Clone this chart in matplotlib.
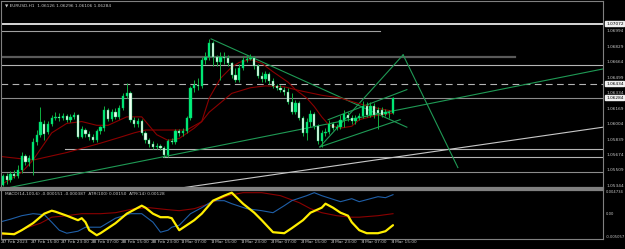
import matplotlib
matplotlib.use('Agg')
import matplotlib.pyplot as plt

# ----------------------------------- dados (EURUSD H1) -----------------------------------
opens = [1.0535, 1.0545, 1.0541, 1.0547, 1.0545, 1.0551, 1.0566, 1.0560, 1.0562, 1.0581,
         1.0589, 1.0600, 1.0592, 1.0600, 1.0607, 1.0608, 1.0607, 1.0609, 1.0605, 1.0608,
         1.0610, 1.0587, 1.0594, 1.0590, 1.0587, 1.0583, 1.0593, 1.0596, 1.0615, 1.0606,
         1.0613, 1.0608, 1.0617, 1.0630, 1.0633, 1.0605, 1.0600, 1.0604, 1.0591, 1.0583,
         1.0579, 1.0576, 1.0577, 1.0575, 1.0567, 1.0582, 1.0581, 1.0593, 1.0591, 1.0593,
         1.0607, 1.0639, 1.0642, 1.0641, 1.0669, 1.0672, 1.0687, 1.0672, 1.0666, 1.0672,
         1.0671, 1.0665, 1.0653, 1.0647, 1.0660, 1.0669, 1.0670, 1.0671, 1.0662, 1.0651,
         1.0648, 1.0654, 1.0646, 1.0641, 1.0639, 1.0637, 1.0634, 1.0624, 1.0613, 1.0623,
         1.0607, 1.0591, 1.0603, 1.0611, 1.0598, 1.0582, 1.0591, 1.0592, 1.0600, 1.0596,
         1.0597, 1.0605, 1.0610, 1.0607, 1.0604, 1.0607, 1.0609, 1.0620, 1.0610, 1.0620,
         1.0615, 1.0615, 1.0611, 1.0612, 1.06126]
highs = [1.0547, 1.0548, 1.0550, 1.0551, 1.0557, 1.0571, 1.0568, 1.0567, 1.0586, 1.0594,
         1.0619, 1.0605, 1.0604, 1.0610, 1.0613, 1.0612, 1.0612, 1.0611, 1.0611, 1.0613,
         1.0611, 1.0598, 1.0596, 1.0593, 1.0590, 1.0595, 1.0598, 1.0620, 1.0617, 1.0616,
         1.0617, 1.0621, 1.0633, 1.0644, 1.0635, 1.0608, 1.0607, 1.0606, 1.0593, 1.0586,
         1.0582, 1.0580, 1.0579, 1.0577, 1.0584, 1.0585, 1.0595, 1.0595, 1.0596, 1.0609,
         1.0641, 1.0647, 1.0649, 1.0672, 1.0677, 1.0691, 1.0689, 1.0674, 1.0677, 1.0677,
         1.0674, 1.0666, 1.0660, 1.0664, 1.0673, 1.0674, 1.0675, 1.0673, 1.0664, 1.0656,
         1.0657, 1.0656, 1.0649, 1.0643, 1.0642, 1.0640, 1.0639, 1.0633, 1.0626, 1.0625,
         1.0609, 1.0607, 1.0615, 1.0613, 1.0600, 1.0594, 1.0596, 1.0605, 1.0603, 1.0600,
         1.0610, 1.0615, 1.0613, 1.0610, 1.0610, 1.0612, 1.0625, 1.0624, 1.0624, 1.0623,
         1.0619, 1.0618, 1.0616, 1.0615, 1.06296]
lows = [1.0534, 1.0537, 1.0539, 1.0543, 1.0543, 1.0548, 1.0557, 1.0556, 1.0546, 1.0578,
        1.0587, 1.0583, 1.0590, 1.0598, 1.0605, 1.0604, 1.0605, 1.0603, 1.0602, 1.0606,
        1.0585, 1.0585, 1.0587, 1.0583, 1.0581, 1.0581, 1.0590, 1.0593, 1.0604, 1.0604,
        1.0606, 1.0606, 1.0615, 1.0628, 1.0603, 1.0597, 1.0597, 1.0589, 1.0580, 1.0576,
        1.0574, 1.0574, 1.0573, 1.0565, 1.0565, 1.0579, 1.0579, 1.0588, 1.0588, 1.0591,
        1.0605, 1.0634, 1.0637, 1.0639, 1.0664, 1.0669, 1.0662, 1.0662, 1.0647, 1.0664,
        1.0662, 1.0649, 1.0645, 1.0645, 1.0658, 1.0666, 1.0668, 1.0659, 1.0649, 1.0645,
        1.0645, 1.0643, 1.0639, 1.0637, 1.0634, 1.0631, 1.0622, 1.0611, 1.0611, 1.0605,
        1.0588, 1.0583, 1.0597, 1.0595, 1.0579, 1.0576, 1.0588, 1.0590, 1.0594, 1.0594,
        1.0595, 1.0597, 1.0604, 1.0600, 1.0600, 1.0605, 1.0607, 1.0608, 1.0608, 1.0607,
        1.0595, 1.0608, 1.0609, 1.0607, 1.06106]
closes = [1.0545, 1.0541, 1.0547, 1.0545, 1.0551, 1.0566, 1.0560, 1.0564, 1.0581, 1.0589,
          1.0602, 1.0590, 1.0600, 1.0607, 1.0608, 1.0607, 1.0609, 1.0605, 1.0608, 1.0610,
          1.0587, 1.0595, 1.0590, 1.0587, 1.0583, 1.0593, 1.0597, 1.0615, 1.0606, 1.0613,
          1.0608, 1.0617, 1.0630, 1.0633, 1.0605, 1.0600, 1.0604, 1.0591, 1.0583, 1.0579,
          1.0576, 1.0577, 1.0575, 1.0567, 1.0582, 1.0581, 1.0593, 1.0591, 1.0593, 1.0607,
          1.0639, 1.0642, 1.0641, 1.0669, 1.0672, 1.0687, 1.0672, 1.0666, 1.0672, 1.0671,
          1.0665, 1.0653, 1.0647, 1.0660, 1.0669, 1.0670, 1.0671, 1.0662, 1.0651, 1.0648,
          1.0654, 1.0646, 1.0641, 1.0639, 1.0637, 1.0634, 1.0624, 1.0613, 1.0623, 1.0607,
          1.0591, 1.0603, 1.0611, 1.0598, 1.0582, 1.0591, 1.0592, 1.0600, 1.0596, 1.0597,
          1.0605, 1.0611, 1.0607, 1.0604, 1.0607, 1.0609, 1.0620, 1.0610, 1.0620, 1.0610,
          1.0612, 1.0610, 1.0613, 1.0613, 1.06284]

# medias moveis (por barra)
ma_fast_bar = [0, 5, 8, 13, 17, 21, 25, 28, 33, 37, 41, 44, 47, 51, 53, 55, 58, 61, 63, 66,
               69, 72, 76, 78, 81, 83, 85, 87, 90, 93, 95, 99, 104]
ma_fast = [1.0537, 1.0549, 1.0562, 1.0591, 1.0601, 1.0603, 1.0599, 1.0599, 1.0608, 1.0608,
           1.0589, 1.0583, 1.0585, 1.0596, 1.0603, 1.0628, 1.0649, 1.0661, 1.0666, 1.0669,
           1.0665, 1.0656, 1.0645, 1.0637, 1.0628, 1.0619, 1.0608, 1.0599, 1.0596, 1.0598,
           1.0605, 1.0609, 1.0612]
ma_slow_bar = [-1, 8, 17, 26, 31, 35, 38, 44, 49, 53, 55, 58, 61, 66, 70, 75, 79, 85, 90, 95,
               100, 104]
ma_slow = [1.0566, 1.0562, 1.0570, 1.0580, 1.0586, 1.0591, 1.0594, 1.0594, 1.0594, 1.0603,
           1.0613, 1.0623, 1.0633, 1.0639, 1.0641, 1.0640, 1.0636, 1.0631, 1.0628, 1.0622,
           1.0617, 1.0614]

# janela do MACD / ATR
sub_yellow_bar = [-1, 3, 5, 8, 11, 13, 14, 17, 20, 21, 22, 23, 25, 26, 28, 30, 33, 37, 38, 40,
                  42, 44, 45, 47, 49, 51, 53, 56, 59, 61, 64, 67, 69, 72, 75, 77, 80, 82, 85, 86,
                  88, 90, 92, 93, 95, 97, 100, 102, 104]
sub_yellow = [-0.0039, -0.0041, -0.0033, -0.0019, 0.0000, 0.0006, 0.0004, -0.0004, -0.0013, -0.0009,
              -0.0017, -0.0033, -0.0043, -0.0039, -0.0029, -0.0019, 0.0000, 0.0016, 0.0012, 0.0000,
              -0.0007, -0.0007, -0.0009, -0.0033, -0.0023, -0.0013, 0.0000, 0.0026, 0.0036, 0.0042,
              0.0020, 0.0002, -0.0013, -0.0037, -0.0039, -0.0029, -0.0013, 0.0002, 0.0012, 0.0020,
              0.0012, 0.0002, -0.0004, -0.0017, -0.0033, -0.0039, -0.0039, -0.0035, -0.0023]
sub_blue_bar = [-1, 2, 5, 8, 11, 13, 15, 17, 20, 22, 26, 30, 34, 37, 40, 42, 44, 45, 47, 50,
                53, 56, 59, 61, 65, 69, 72, 75, 77, 81, 83, 85, 90, 93, 95, 97, 100, 102, 104]
sub_blue = [-0.0017, -0.0011, -0.0004, 0.0000, -0.0002, -0.0017, -0.0033, -0.0039, -0.0035, -0.0027,
            -0.0027, -0.0009, 0.0000, 0.0000, -0.0017, -0.0037, -0.0033, -0.0027, -0.0023, 0.0000,
            0.0012, 0.0026, 0.0026, 0.0020, 0.0010, 0.0006, 0.0002, 0.0016, 0.0026, 0.0036,
            0.0042, 0.0036, 0.0024, 0.0030, 0.0024, 0.0028, 0.0034, 0.0032, 0.0038]
sub_red_bar = [-1, 3, 6, 10, 13, 17, 21, 26, 30, 35, 39, 44, 47, 51, 55, 60, 64, 69, 74, 79,
               82, 85, 89, 93, 95, 100, 104]
sub_red = [-0.0043, -0.0039, -0.0029, -0.0019, -0.0007, -0.0004, 0.0000, 0.0000, 0.0002, 0.0010,
           0.0012, 0.0008, 0.0006, 0.0010, 0.0020, 0.0036, 0.0042, 0.0042, 0.0036, 0.0022,
           0.0010, 0.0002, -0.0004, -0.0007, -0.0007, -0.0004, 0.0000]

time_bars = [0, 8, 16, 24, 32, 40, 48, 56, 64, 72, 80, 88, 96, 104]
time_labels = ['27 Feb 2023', '27 Feb 15:00', '27 Feb 23:00', '28 Feb 07:00', '28 Feb 15:00',
               '28 Feb 23:00', '1 Mar 07:00', '1 Mar 15:00', '1 Mar 23:00', '2 Mar 07:00',
               '2 Mar 15:00', '2 Mar 23:00', '3 Mar 07:00', '3 Mar 15:00']
price_ticks = [1.06994, 1.06829, 1.06664, 1.06499, 1.06334, 1.06169, 1.06004,
               1.05839, 1.05674, 1.05509, 1.05344]
level_white = 1.07072
level_dashed = 1.06434
level_bid = 1.06284
sub_ticks = [0.004734, 0.0, -0.005057]
sub_tick_labels = ['0.004734', '0.00', '-0.005057']

# linhas de tendencia (barra, preco)
green_lines = [((55.5, 1.0691), (107.7, 1.0597)),
               ((2.0, 1.0533), (160.0, 1.0659)),
               ((84.5, 1.0576), (106.7, 1.0674)),
               ((106.7, 1.0674), (121.3, 1.0554)),
               ((86.7, 1.0605), (107.7, 1.0637)),
               ((84.5, 1.0576), (105.9, 1.0605))]
white_slope = ((47.0, 1.0532), (160.0, 1.0597))

# --------------------------------------------- PLOTAGEM ---------------------------------------------
BG = 'black'
TXT = '#c8c8c8'
FRAME = '#808080'
FS = 3.1

fig = plt.figure(figsize=(6.25, 2.49), dpi=100, facecolor=BG)
ax = fig.add_axes([1 / 625, 61 / 249, 602 / 625, 187 / 249], facecolor=BG)
ax2 = fig.add_axes([1 / 625, 10 / 249, 602 / 625, 49 / 249], facecolor=BG)

x_min, x_max = -0.53, 160.0
ax.set_xlim(x_min, x_max)
ax.set_ylim(1.053227, 1.073134)

# niveis horizontais
ax.axhline(level_white, color='#e8e8e8', lw=1.3)
ax.plot([x_min, 100.5], [1.0699, 1.0699], color='#a0a0a0', lw=0.8)
ax.plot([x_min, 136.5], [1.0672, 1.0672], color='#5a5a5a', lw=1.6)
ax.axhline(1.0663, color='#b4b4b4', lw=0.8)
ax.axhline(level_dashed, color='#b4b4b4', lw=0.8, ls=(0, (6, 4)))
ax.axhline(level_bid, color='#8c8c8c', lw=0.8)
ax.plot([16.5, x_max], [1.0574, 1.0574], color='#b4b4b4', lw=0.8)
ax.plot([42.7, x_max], [1.0565, 1.0565], color='#b4b4b4', lw=0.8)
ax.axhline(1.0549, color='#8c8c8c', lw=0.8)
ax.plot([white_slope[0][0], white_slope[1][0]], [white_slope[0][1], white_slope[1][1]],
        color='#c8c8c8', lw=0.8)

for (p0, p1) in green_lines:
    ax.plot([p0[0], p1[0]], [p0[1], p1[1]], color='#1f9a55', lw=0.8)

ax.plot(ma_slow_bar, ma_slow, color='#8b0000', lw=0.8)
ax.plot(ma_fast_bar, ma_fast, color='#8b0000', lw=0.8)

# velas
for i in range(len(opens)):
    o, h, l, c = opens[i], highs[i], lows[i], closes[i]
    ax.vlines(i, l, h, color='#10b040', lw=0.7, zorder=3)
    alta = c >= o
    cor = '#00f07a' if alta else '#f0fff0'
    altura = max(abs(c - o), 0.00004)
    ax.bar(i, altura, bottom=min(o, c), width=0.62, color=cor,
           edgecolor='#00c060', linewidth=0.3, zorder=4)

# escala de precos
ytr = ax.get_yaxis_transform()
for p in price_ticks:
    ax.text(1.005, p, '%.5f' % p, transform=ytr, color=TXT, fontsize=FS, va='center', ha='left')
for p in [level_white, level_dashed, level_bid]:
    ax.text(1.005, p, '%.5f' % p, transform=ytr, color='black', fontsize=FS, va='center', ha='left',
            bbox=dict(boxstyle='square,pad=0.12', fc='#f0f0f0', ec='#f0f0f0'))

ax.text(0.006, 0.985, '\u25BC EURUSD,H1  1.06126 1.06296 1.06106 1.06284', transform=ax.transAxes,
        color=TXT, fontsize=FS, va='top', ha='left')

# janela do indicador
ax2.set_xlim(x_min, x_max)
ax2.set_ylim(-0.005057, 0.004734)
ax2.plot(sub_red_bar, sub_red, color='#8b0000', lw=0.8)
ax2.plot(sub_blue_bar, sub_blue, color='#1f5fa8', lw=0.8)
ax2.plot(sub_yellow_bar, sub_yellow, color='#ffee00', lw=1.6, solid_capstyle='round')
ax2.text(0.006, 0.95, 'MACD(14,100,6) -0.000151 -0.000387  ATR(100) 0.00150  ATR(14) 0.00128',
         transform=ax2.transAxes, color=TXT, fontsize=FS, va='top', ha='left')
ytr2 = ax2.get_yaxis_transform()
for v, lab in zip(sub_ticks, sub_tick_labels):
    va = 'top' if v > 0 else ('bottom' if v < 0 else 'center')
    ax2.text(1.004, v, lab, transform=ytr2, color=TXT, fontsize=2.7, va=va, ha='left')

for a in (ax, ax2):
    a.set_xticks([])
    a.set_yticks([])
    for s in a.spines.values():
        s.set_color(FRAME)
        s.set_linewidth(0.8)
ax.spines['bottom'].set_linewidth(1.6)
ax2.spines['top'].set_linewidth(1.6)

# eixo de tempo
for b, lab in zip(time_bars, time_labels):
    ax2.text(b - 0.4, -0.03, lab, transform=ax2.get_xaxis_transform(), color=TXT,
             fontsize=FS, va='top', ha='left')
    ax2.plot([b, b], [-0.06, 0.0], transform=ax2.get_xaxis_transform(), color=FRAME,
             lw=0.6, clip_on=False)

fig.savefig('out.png', dpi=100, facecolor=BG)
